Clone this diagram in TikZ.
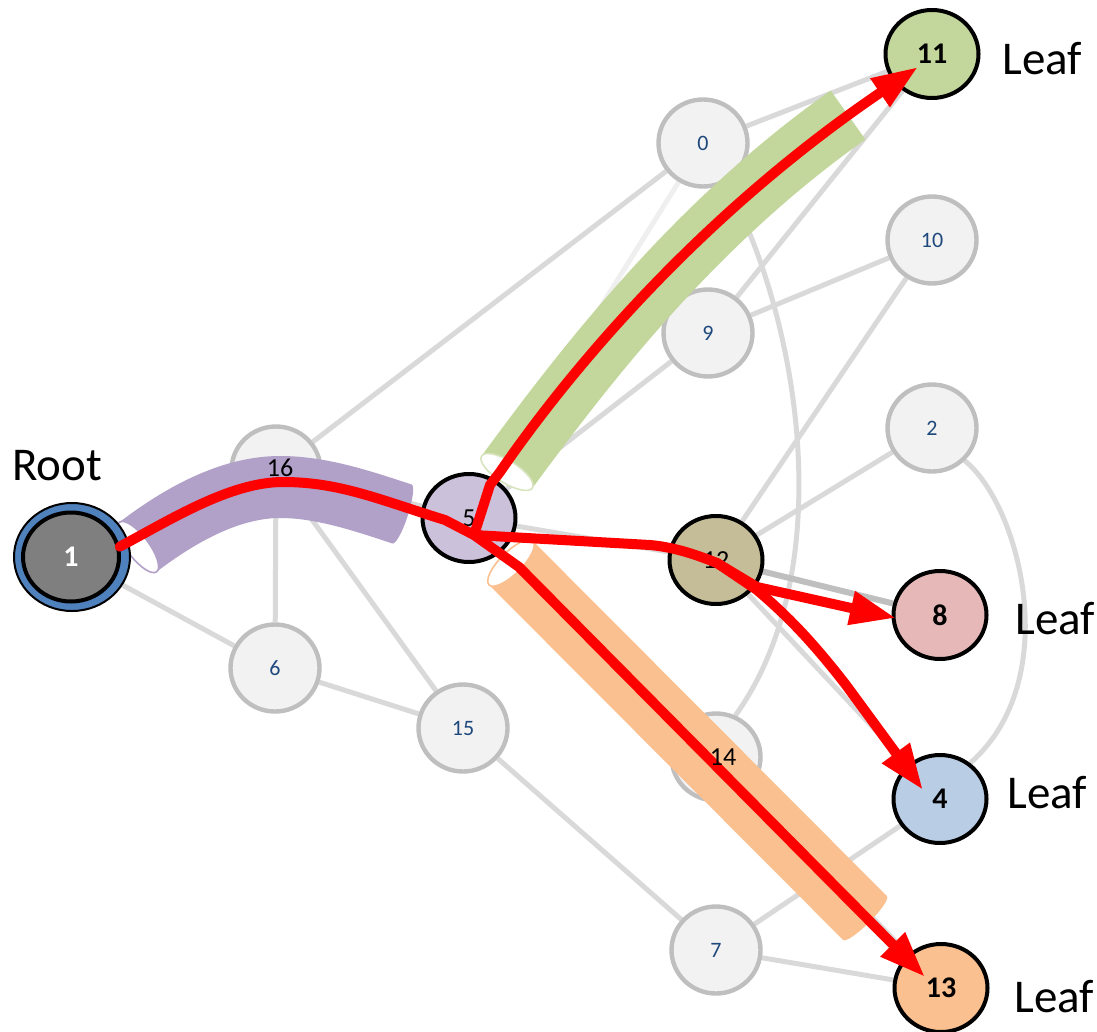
\documentclass[tikz,border=0pt]{standalone}
\usepackage{fontspec}
\setmainfont{Carlito}
\usetikzlibrary{arrows.meta,shapes.geometric}
\definecolor{edgegray}{HTML}{D9D9D9}
\definecolor{faintgray}{HTML}{EFEFEF}
\definecolor{nodegray}{HTML}{F2F2F2}
\definecolor{bordergray}{HTML}{BFBFBF}
\definecolor{lbldark}{HTML}{1F497D}
\definecolor{purpletube}{HTML}{B1A0C7}
\definecolor{greentube}{HTML}{C3D69B}
\definecolor{greenrim}{HTML}{D7E4BD}
\definecolor{orangetube}{HTML}{FAC090}
\definecolor{rootblue}{HTML}{4F81BD}
\definecolor{fillfive}{HTML}{CCC1DA}
\definecolor{filltwelve}{HTML}{C4BD97}
\definecolor{filleight}{HTML}{E6B9B8}
\definecolor{fillfour}{HTML}{B9CDE5}
\definecolor{fillthirteen}{HTML}{FAC090}
\definecolor{fillone}{HTML}{7F7F7F}
\definecolor{fillleaf}{HTML}{C3D69B}
\definecolor{pathred}{HTML}{FF0000}
\pgfdeclarelayer{edgelayer}
\pgfsetlayers{edgelayer,main}
\begin{document}
\begin{tikzpicture}[x=0.5pt,y=-0.5pt,
  gnode/.style={ellipse, draw=bordergray, fill=nodegray, line width=2.2pt,
    minimum width=44.5pt, minimum height=43.5pt, inner sep=0pt,
    text=lbldark, font=\fontsize{11}{13}\selectfont},
  cnode/.style={ellipse, draw=black, line width=2pt,
    minimum width=46.5pt, minimum height=44pt, inner sep=0pt,
    font=\fontsize{15}{17}\selectfont\bfseries},
  gedge/.style={draw=edgegray, line width=2.5pt},
  redpath/.style={draw=pathred, line width=5pt, line join=round, line cap=round,
    -{Triangle[length=23pt,width=16pt]}},
  num/.style={font=\fontsize{13}{15}\selectfont, text=black, inner sep=0pt},
  side/.style={font=\fontsize{23.5}{28}\selectfont, anchor=base west, inner sep=0pt},
  rim/.style={fill=white, line width=0.8pt}
]
\useasboundingbox (0,0) rectangle (1097,1032);

% gray nodes
\node[gnode] (n0)  at (703,143) {0};
\node[gnode] (n10) at (932,240) {10};
\node[gnode] (n9)  at (708,333) {9};
\node[gnode] (n2)  at (932,428) {2};
\node[gnode] (n16) at (276,470) {};
\node[gnode] (n6)  at (275,668) {6};
\node[gnode] (n15) at (463,728) {15};
\node[gnode] (n14) at (716,757) {};
\node[gnode] (n7)  at (716,950) {7};

% tubes
\draw[purpletube, line width=31pt] (138,547) .. controls (180,515) and (230,487) .. (280,487)
      .. controls (320,487) and (360,500) .. (402,514);
\fill[purpletube, rotate around={-18:(402,514)}] (402,514) ellipse (3pt and 15.5pt);
\draw[rim, draw=purpletube, rotate around={37:(138,547)}] (138,547) ellipse (5.5pt and 15.5pt);

\draw[greentube, line width=30pt] (507,472) .. controls (582,370) and (692,225) .. (848,115);
\draw[rim, draw=greenrim, rotate around={58:(507,472)}] (507,472) ellipse (5.5pt and 15pt);

\draw[orangetube, line width=31pt] (511,563) -- (865,918);
\fill[orangetube, rotate around={-45:(865,918)}] (865,918) ellipse (3pt and 15.5pt);
\draw[rim, draw=orangetube, rotate around={-45:(511,563)}] (511,563) ellipse (5.5pt and 15.5pt);

% coloured nodes
\node[ellipse, fill=rootblue, draw=black, line width=1pt,
      minimum width=58pt, minimum height=54pt] (n1ring) at (72,557) {};
\node[cnode, fill=fillone, text=white, minimum width=48pt, minimum height=44.5pt] (n1) at (71,557) {1};
\node[cnode, fill=fillfive, font=\fontsize{13}{15}\selectfont] (n5) at (469,518) {5};
\node[cnode, fill=filltwelve, font=\fontsize{13}{15}\selectfont] (n12) at (716,560) {12};
\node[cnode, fill=fillleaf] (n11) at (932,54) {11};
\node[cnode, fill=filleight] (n8) at (940,615) {8};
\node[cnode, fill=fillfour] (n4) at (940,799) {4};
\node[cnode, fill=fillthirteen] (n13) at (941,988) {13};

% gray edges
\begin{pgfonlayer}{edgelayer}
\draw[gedge] (n1) -- (n6);
\draw[gedge] (n1) -- (n16);
\draw[gedge] (n16) -- (n0);
\draw[gedge] (n16) -- (n6);
\draw[gedge] (n16) -- (n15);
\draw[gedge] (n16) -- (n5);
\draw[gedge] (n6) -- (n15);
\draw[gedge] (n15) -- (n7);
\draw[gedge] (n5) -- (n9);
\draw[gedge] (n5) -- (n12);
\draw[gedge, draw=faintgray] (n5) -- (n0);
\draw[gedge] (n5) -- (n14);
\draw[gedge] (n14) -- (n13);
\draw[gedge] (n0) -- (n11);
\draw[gedge] (n0.-60) .. controls (800,320) and (840,570) .. (n14.65);
\draw[gedge] (n9) -- (n11);
\draw[gedge] (n9) -- (n10);
\draw[gedge] (n10) -- (n12);
\draw[gedge] (n2) -- (n12);
\draw[gedge] (n2.-45) .. controls (1020,505) and (1065,680) .. (n4.50);
\draw[gedge, draw=bordergray, line width=3pt] (n12) -- (n8);
\draw[gedge] (n12) -- (n4);
\draw[gedge] (n4) -- (n7);
\draw[gedge] (n7) -- (n13);
\end{pgfonlayer}

% red paths
\coordinate (hub) at (474,535);
\coordinate (c12) at (717,563);
\coordinate (tip13) at (925,977);
\coordinate (tip11) at (918,67);
\coordinate (tip8) at (896,618);
\coordinate (tip4) at (923,790);
\draw[redpath] (n1.12) .. controls (170,520) and (230,482) .. (283,482)
      .. controls (340,482) and (380,500) .. (445,520) -- (hub) -- (519,567) -- (tip13);
\draw[redpath] (hub) -- (490,485) -- (500,472) .. controls (570,370) and (700,215) .. (tip11);
\draw[redpath] (hub) -- (650,545) .. controls (672,547) and (692,553) .. (c12) -- (757,587) -- (tip8);
\draw[redpath] (c12) -- (757,590) .. controls (790,618) and (815,645) .. (846,685) -- (tip4);

% labels on top
\node[num] (l16) at (280,468) {16};
\node[num] (l14) at (723,757) {14};

\node[side] (root) at (12,480) {Root};
\node[side] (leaf11) at (1002,75) {Leaf};
\node[side] (leaf8) at (1015,634) {Leaf};
\node[side] (leaf4) at (1007,808) {Leaf};
\node[side] (leaf13) at (1014,1012) {Leaf};
\end{tikzpicture}
\end{document}
